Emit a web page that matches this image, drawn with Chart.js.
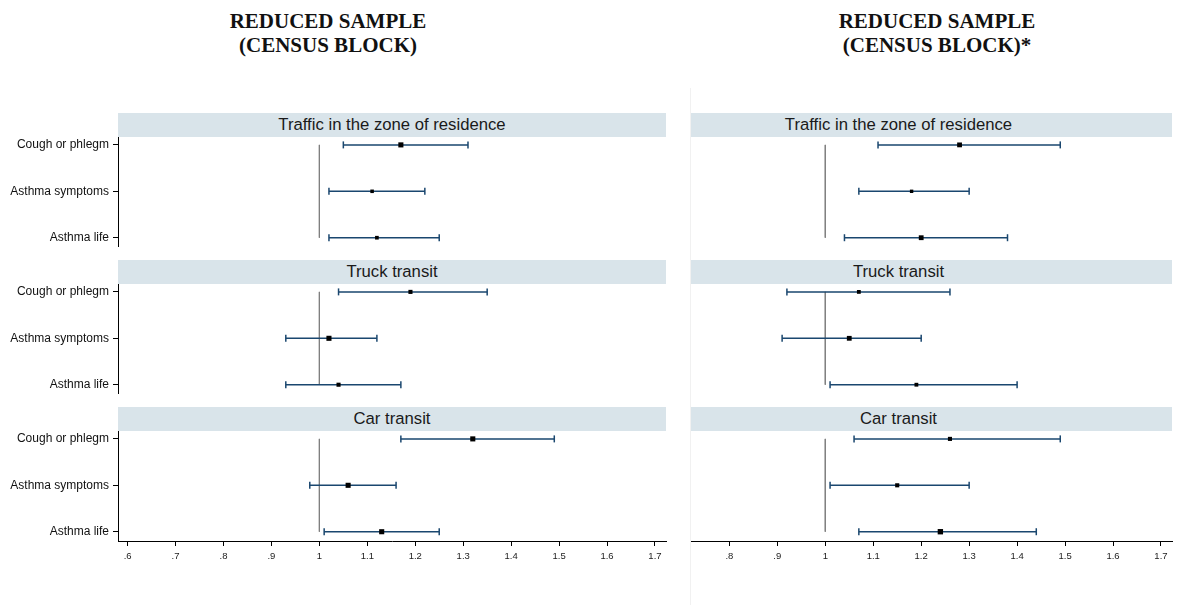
<!DOCTYPE html>
<html>
<head>
<meta charset="utf-8">
<script src="https://cdn.jsdelivr.net/npm/chart.js@4/dist/chart.umd.min.js"></script>
<style>
  body { margin: 0; background: #fff; }
  #wrap { position: relative; width: 1180px; height: 605px; overflow: hidden; background: #fff; }
  .head { position: absolute; top: 9px; width: 400px; text-align: center; font-family: "Liberation Serif", serif; font-weight: bold; font-size: 21px; line-height: 24px; color: #111; }
  .strip { position: absolute; height: 24px; line-height: 24px; background: #d9e4ea; font-family: "Liberation Sans", Arial, sans-serif; font-size: 16.7px; color: #1a1a1a; text-align: center; box-sizing: border-box; }
  .box { position: absolute; }
  #divider { position: absolute; left: 690px; top: 88px; width: 1px; height: 517px; background: #f1f1f1; }
</style>
</head>
<body>
<div id="wrap">
  <div class="head" style="left:128px">REDUCED SAMPLE<br>(CENSUS BLOCK)</div>
  <div class="head" style="left:737px">REDUCED SAMPLE<br>(CENSUS BLOCK)*</div>
  <div id="divider"></div>
</div>
<script>
// categorias / paneles
var outcomes = ["Cough or phlegm", "Asthma symptoms", "Asthma life"];
var panels = ["Traffic in the zone of residence", "Truck transit", "Car transit"];
var ticksLeft = [0.6, 0.7, 0.8, 0.9, 1, 1.1, 1.2, 1.3, 1.4, 1.5, 1.6, 1.7];
var ticksRight = [0.8, 0.9, 1, 1.1, 1.2, 1.3, 1.4, 1.5, 1.6, 1.7];

// izquierda: reduced sample (census block)
var trafficOR_L = [1.17, 1.11, 1.12];
var trafficLo_L = [1.05, 1.02, 1.02];
var trafficHi_L = [1.31, 1.22, 1.25];
var truckOR_L = [1.19, 1.02, 1.04];
var truckLo_L = [1.04, 0.93, 0.93];
var truckHi_L = [1.35, 1.12, 1.17];
var carOR_L = [1.32, 1.06, 1.13];
var carLo_L = [1.17, 0.98, 1.01];
var carHi_L = [1.49, 1.16, 1.25];

// derecha: reduced sample (census block)*
var trafficOR_R = [1.28, 1.18, 1.20];
var trafficLo_R = [1.11, 1.07, 1.04];
var trafficHi_R = [1.49, 1.30, 1.38];
var truckOR_R = [1.07, 1.05, 1.19];
var truckLo_R = [0.92, 0.91, 1.01];
var truckHi_R = [1.26, 1.20, 1.40];
var carOR_R = [1.26, 1.15, 1.24];
var carLo_R = [1.06, 1.01, 1.07];
var carHi_R = [1.49, 1.30, 1.44];

var leftSets = [[trafficOR_L, trafficLo_L, trafficHi_L], [truckOR_L, truckLo_L, truckHi_L], [carOR_L, carLo_L, carHi_L]];
var rightSets = [[trafficOR_R, trafficLo_R, trafficHi_R], [truckOR_R, truckLo_R, truckHi_R], [carOR_R, carLo_R, carHi_R]];

// tamaño de los cuadrados (estilo)
var dotLeft = [[3.6, 2.5, 2.6], [2.9, 3.6, 2.9], [3.6, 3.6, 3.6]];
var dotRight = [[3.4, 2.4, 3.4], [2.7, 3.4, 2.7], [2.9, 2.9, 3.8]];

var navy = "#1a476f";
var stripTops = [113, 260, 407];

function fmt(v) {
  var s = String(Math.round(v * 10) / 10);
  return s.replace(/^0\./, ".");
}

function makePanel(side, k) {
  var wrap = document.getElementById("wrap");
  var isLeft = side === "L";
  var sets = isLeft ? leftSets : rightSets;
  var OR = sets[k][0], lo = sets[k][1], hi = sets[k][2];
  var dots = isLeft ? dotLeft[k] : dotRight[k];
  var bottom = k === 2;

  // franja con el titulo
  var strip = document.createElement("div");
  strip.className = "strip";
  strip.textContent = panels[k];
  if (isLeft) {
    strip.style.left = "118px"; strip.style.width = "548px";
  } else {
    strip.style.left = "691px"; strip.style.width = "481px"; strip.style.paddingRight = "66px";
  }
  strip.style.top = stripTops[k] + "px";
  wrap.appendChild(strip);

  var box = document.createElement("div");
  box.className = "box";
  var w = isLeft ? 680 : 489;
  var h = bottom ? 150 : 110;
  box.style.left = (isLeft ? 0 : 691) + "px";
  box.style.top = (stripTops[k] + 24) + "px";
  box.style.width = w + "px";
  box.style.height = h + "px";
  var cv = document.createElement("canvas");
  cv.id = "c" + side + k;
  box.appendChild(cv);
  wrap.appendChild(box);

  var rows = outcomes.map(function (o, i) { return i; });
  // bigotes: segmento lo-hi, cortado con null entre filas
  var whisk = [];
  var caps = [];
  rows.forEach(function (i) {
    whisk.push({ x: lo[i], y: i }, { x: hi[i], y: i }, { x: null, y: null });
    caps.push({ x: lo[i], y: i }, { x: hi[i], y: i });
  });
  var pts = rows.map(function (i) { return { x: OR[i], y: i }; });

  var yAxis = {
    type: "linear",
    display: isLeft,
    reverse: true,
    min: -0.17,
    max: 2.2,
    afterBuildTicks: function (axis) {
      axis.ticks = rows.map(function (v) { return { value: v }; });
    },
    border: { display: true, color: "#000", width: 1 },
    grid: { display: true, drawOnChartArea: false, drawTicks: true, tickLength: 5, color: "#000" },
    ticks: {
      callback: function (v) { return outcomes[v]; },
      font: { family: "Liberation Sans", size: 12 },
      color: "#111",
      padding: 4
    }
  };
  if (isLeft) {
    yAxis.afterFit = function (axis) {
      axis.width = 118;
      axis.paddingTop = 0;
      axis.paddingBottom = 0;
    };
  }

  var xAxis = {
    type: "linear",
    display: bottom,
    min: isLeft ? 0.58 : 0.72,
    max: 1.723,
    afterBuildTicks: function (axis) {
      axis.ticks = (isLeft ? ticksLeft : ticksRight).map(function (v) { return { value: v }; });
    },
    border: { display: true, color: "#000", width: 1 },
    grid: { display: true, drawOnChartArea: false, drawTicks: true, tickLength: 5, color: "#000" },
    ticks: {
      callback: function (v) { return fmt(v); },
      font: { family: "Liberation Sans", size: 9.5 },
      color: "#222",
      padding: 5,
      maxRotation: 0,
      autoSkip: false
    }
  };
  if (bottom) xAxis.afterFit = function (axis) { axis.height = 40; };

  new Chart(cv.id, {
    type: "scatter",
    data: {
      datasets: [
        { type: "line", data: [{ x: 1, y: 0 }, { x: 1, y: 2 }], borderColor: "#808080", borderWidth: 1, pointRadius: 0, order: 4 },
        { data: whisk, showLine: true, spanGaps: false, borderColor: navy, borderWidth: 1.5, pointRadius: 0, order: 3 },
        { data: caps, pointStyle: "line", rotation: 90, pointRadius: 3.5, borderColor: navy, borderWidth: 1.5, order: 2 },
        { data: pts, pointStyle: "rect", pointRadius: dots, backgroundColor: "#000", borderWidth: 0, order: 1 }
      ]
    },
    options: {
      responsive: true,
      maintainAspectRatio: false,
      animation: false,
      events: [],
      layout: { autoPadding: false, padding: { left: 0, right: isLeft ? 14 : 8, top: 0, bottom: 0 } },
      plugins: { legend: { display: false }, tooltip: { enabled: false } },
      scales: { x: xAxis, y: yAxis }
    }
  });
}

for (var k = 0; k < 3; k++) {
  makePanel("L", k);
  makePanel("R", k);
}
</script>
</body>
</html>
